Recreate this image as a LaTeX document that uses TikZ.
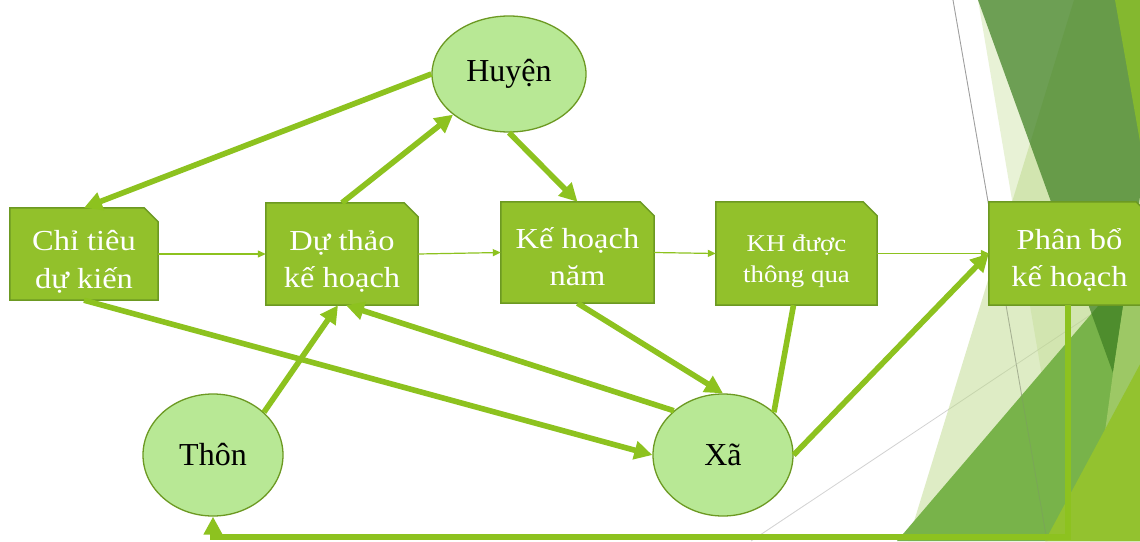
\documentclass[tikz,border=0pt]{standalone}
\usepackage{fontspec}
\setmainfont{Liberation Serif}
\newfontfamily\boxfont{Liberation Serif}[FakeStretch=1.12]
\usetikzlibrary{shapes.geometric,arrows.meta,calc}
\definecolor{boxfill}{HTML}{92C12B}
\definecolor{boxline}{HTML}{6C9922}
\definecolor{ellfill}{HTML}{B8E895}
\definecolor{ellline}{HTML}{6C9922}
\definecolor{conn}{HTML}{8DC21F}
\definecolor{lightg}{RGB}{190,218,140}
\definecolor{medg}{HTML}{78B34A}
\definecolor{darkg}{HTML}{3E7F22}
\definecolor{brightg}{HTML}{84B82F}
\definecolor{paleg}{HTML}{9DC865}
\definecolor{yellowg}{HTML}{93C22F}
\newcommand\snipbox[1]{\draw[boxline, fill=boxfill, line width=1.5pt] (#1.south west) -- (#1.north west) -- ([xshift=-14pt]#1.north east) -- ([yshift=-14pt]#1.north east) -- (#1.south east) -- cycle;}
\begin{document}
\begin{tikzpicture}[x=1pt,y=-1pt,
  geom/.style={inner sep=0, draw=none, fill=none},
  btext/.style={text=white, align=center, inner sep=0, font=\boxfont\fontsize{29}{37}\selectfont},
  ell/.style={ellipse, draw=ellline, fill=ellfill, line width=1.3pt, inner sep=0, text=black, font=\fontsize{32}{38}\selectfont},
  thickc/.style={draw=conn, line width=5.6pt, -{Triangle[length=18pt,width=18pt]}},
  plainc/.style={draw=conn, line width=5.6pt},
  thinc/.style={draw=conn, line width=1.2pt, -{Triangle[length=8pt,width=7pt]}}
]
\useasboundingbox (0,0) rectangle (1140,541);
\fill[white] (0,0) rectangle (1140,541);
% ---- decoration
\begin{scope}
\clip (0,0) rectangle (1140,541);
\draw[gray!70, line width=0.8pt] (953,0) -- (1047,541);
\draw[gray!35, line width=0.8pt] (751,541) -- (1140,282);
\fill[lightg, opacity=0.35] (978,0) -- (1160,0) -- (1160,541) -- (1070,541) -- cycle;
\fill[lightg, opacity=0.5] (1074,0) -- (1160,0) -- (1160,541) -- (908,541) -- cycle;
\fill[medg] (897,541) -- (1140,257) -- (1140,541) -- cycle;
\fill[darkg, opacity=0.72] (978,0) -- (1170,0) -- (1113,373) -- cycle;
\fill[brightg] (1115,0) -- (1145,0) -- (1145,170) -- cycle;
\fill[paleg] (1113,373) -- (1124,300) -- (1145,300) -- (1145,541) -- (1090,541) -- cycle;
\fill[yellowg] (1045,541) -- (1145,355) -- (1145,541) -- cycle;
\draw[gray, opacity=0.25, line width=0.8pt] (953,0) -- (1047,541);
\end{scope}
% ---- boxes
\node[geom, minimum width=148pt, minimum height=92pt] (c1) at (84,254) {};
\node[geom, minimum width=152pt, minimum height=102pt] (c2) at (342,254) {};
\node[geom, minimum width=153pt, minimum height=101pt] (c3) at (577.5,252.5) {};
\node[geom, minimum width=161pt, minimum height=103pt] (c4) at (796.5,253.5) {};
\node[geom, minimum width=161pt, minimum height=103pt] (c5) at (1069.5,253.5) {};
\snipbox{c1}\snipbox{c2}\snipbox{c3}\snipbox{c4}\snipbox{c5}
\node[btext, font=\boxfont\fontsize{29}{38}\selectfont] (t1) at ([yshift=-8pt]c1.center) {Chỉ tiêu\\dự kiến};
\node[btext] (t2) at ([yshift=-7pt]c2.center) {Dự thảo\\kế hoạch};
\node[btext] (t3) at ([yshift=-4pt]c3.center) {Kế hoạch\\năm};
\node[btext, font=\boxfont\fontsize{24}{31}\selectfont] (t4) at ([yshift=-8pt]c4.center) {KH được\\thông qua};
\node[btext] (t5) at ([yshift=-6pt]c5.center) {Phân bổ\\kế hoạch};
% ---- ellipses
\node[ell, minimum width=154pt, minimum height=116pt] (huyen) at (509,74) {Huyện};
\node[ell, minimum width=140pt, minimum height=122pt] (thon) at (213,455) {Thôn};
\node[ell, minimum width=140pt, minimum height=122pt] (xa) at (723,455) {Xã};
\coordinate (low) at (0,537);
% ---- thin connectors
\draw[thinc] (c1.east) -- (c2.west);
\draw[thinc] (c2.east) -- (c3.west);
\draw[thinc] (c3.east) -- (c4.west);
\draw[thinc] (c4.east) -- (c5.west);
% ---- thick connectors
\draw[thickc] (huyen.west) -- (c1.north);
\draw[thickc] (c2.north) -- (huyen.216);
\draw[thickc] (huyen.south) -- (c3.north);
\draw[thickc] (c1.south) -- (xa.west);
\draw[thickc] (xa.138) -- ([xshift=4pt]c2.south);
\draw[thickc] (thon.40) -- ([xshift=-4pt]c2.south);
\draw[thickc] (c3.south) -- (xa.north);
\draw[plainc] ([xshift=-3pt]c4.south) -- (xa.40);
\draw[thickc] (xa.east) -- (c5.west);
\draw[thickc, line width=6pt] ([xshift=-2pt]c5.south) -- ([xshift=-2pt]c5.south |- low) -| (thon.south);
\end{tikzpicture}
\end{document}
